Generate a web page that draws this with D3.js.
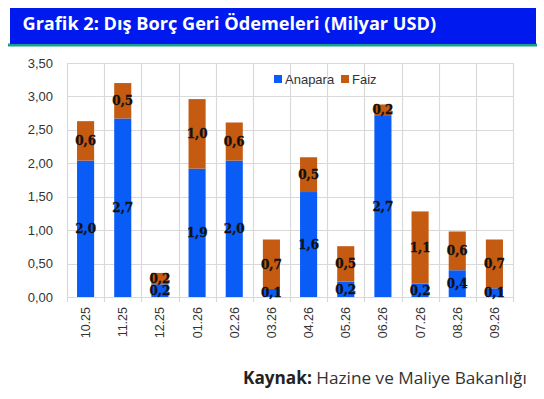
<!DOCTYPE html>
<html><head><meta charset="utf-8">
<script src="https://cdn.jsdelivr.net/npm/d3@7"></script>
<style>
html,body{margin:0;padding:0;background:#fff;}
svg{display:block;}
</style></head>
<body>
<svg id="chart" width="544" height="399"></svg>
<script>
const titleText = "Grafik 2: Dış Borç Geri Ödemeleri (Milyar USD)";
const categories = ["10.25","11.25","12.25","01.26","02.26","03.26","04.26","05.26","06.26","07.26","08.26","09.26"];
const anapara = [2.04,2.67,0.19,1.92,2.04,0.12,1.57,0.23,2.72,0.20,0.40,0.13];
const faiz    = [0.59,0.53,0.17,1.04,0.57,0.74,0.52,0.53,0.16,1.08,0.58,0.73];
const seriesNames = ["Anapara","Faiz"];
const yTicks = [0,0.5,1,1.5,2,2.5,3,3.5];

const colors = {Anapara:"#0a5cf7", Faiz:"#c55a11"};
const svg = d3.select("#chart");

// Banner
svg.append("rect").attr("x",8).attr("y",43.5).attr("width",529).attr("height",3).attr("fill","#17a08e");
svg.append("rect").attr("x",10).attr("y",8).attr("width",526).attr("height",36).attr("fill","#0019ef");
const title = svg.append("text").attr("x",22.5).attr("y",30)
  .attr("fill","#fff").attr("font-family","Open Sans, Noto Sans, sans-serif")
  .attr("font-weight","bold").attr("font-size",17).text(titleText);
function fitWidth(sel, target){
  const w = sel.node().getComputedTextLength();
  const fs = +sel.attr("font-size");
  sel.attr("font-size", fs*target/w);
}
fitWidth(title, 414);

// Scales
const x = d3.scaleBand().domain(categories).range([67,513]).paddingInner(0).paddingOuter(0);
const y = d3.scaleLinear().domain([0,3.5]).range([297,63]);
const comma = s => s.replace(".",",");

// Grid
const grid = svg.append("g");
grid.selectAll("line.h").data(yTicks).join("line")
  .attr("x1",67).attr("x2",513).attr("y1",d=>Math.round(y(d))+0.5).attr("y2",d=>Math.round(y(d))+0.5)
  .attr("stroke","#d9d9d9").attr("stroke-width",1.2);
const bounds = categories.map(c=>x(c)).concat([x.range()[1]]);
grid.selectAll("line.v").data(bounds).join("line")
  .attr("x1",d=>Math.round(d)+0.5).attr("x2",d=>Math.round(d)+0.5).attr("y1",y(3.5)).attr("y2",y(0)+5)
  .attr("stroke","#d9d9d9").attr("stroke-width",1.2);

// Y axis labels
svg.append("g").selectAll("text").data(yTicks).join("text")
  .attr("x",53).attr("y",d=>y(d)+4.5).attr("text-anchor","end")
  .attr("font-family","Liberation Sans, Arial, sans-serif").attr("font-size",13).attr("fill","#333")
  .text(d=>comma(d3.format(".2f")(d)));

// Stacked data
const rows = categories.map((c,i)=>({cat:c, Anapara:anapara[i], Faiz:faiz[i]}));
const stack = d3.stack().keys(seriesNames)(rows);
const bw = x.bandwidth()*0.46;

const layers = svg.append("g").selectAll("g").data(stack).join("g").attr("fill",d=>colors[d.key]);
layers.selectAll("rect").data(d=>d).join("rect")
  .attr("x",d=>x(d.data.cat)+x.bandwidth()/2-bw/2).attr("width",bw)
  .attr("y",d=>y(d[1])).attr("height",d=>y(d[0])-y(d[1]));

// Data labels
const lab = svg.append("g");
stack.forEach(s=>{
  lab.selectAll(null).data(s).join("text")
    .attr("x",d=>x(d.data.cat)+x.bandwidth()/2).attr("y",d=>(y(d[0])+y(d[1]))/2+4.5)
    .attr("text-anchor","middle").attr("font-family","DejaVu Serif, serif").attr("font-weight","bold")
    .attr("font-size",12).attr("fill","#111").attr("stroke","#111").attr("stroke-width",0.3)
    .text(d=>comma(d3.format(".1f")(d[1]-d[0])));
});

// X labels
svg.append("g").selectAll("text").data(categories).join("text")
  .attr("transform",d=>`translate(${x(d)+x.bandwidth()/2+4.5},307) rotate(-90)`)
  .attr("text-anchor","end").attr("font-family","Liberation Sans, Arial, sans-serif")
  .attr("font-size",12.5).attr("fill","#333").text(d=>d);

// Legend
const legend = svg.append("g");
const legX = [274,341];
seriesNames.forEach((n,i)=>{
  legend.append("rect").attr("x",legX[i]).attr("y",75).attr("width",8).attr("height",8).attr("fill",colors[n]);
  legend.append("text").attr("x",legX[i]+11).attr("y",83.5).attr("font-family","Liberation Sans, Arial, sans-serif")
    .attr("font-size",13).attr("fill","#333").text(n);
});

// Source
const src = svg.append("text").attr("x",243).attr("y",383.5)
  .attr("font-family","Open Sans, Noto Sans, sans-serif").attr("font-size",16).attr("fill","#222");
src.append("tspan").attr("font-weight","bold").text("Kaynak:");
src.append("tspan").attr("fill","#333").text(" Hazine ve Maliye Bakanlığı");
fitWidth(src, 284);
</script>
</body></html>
